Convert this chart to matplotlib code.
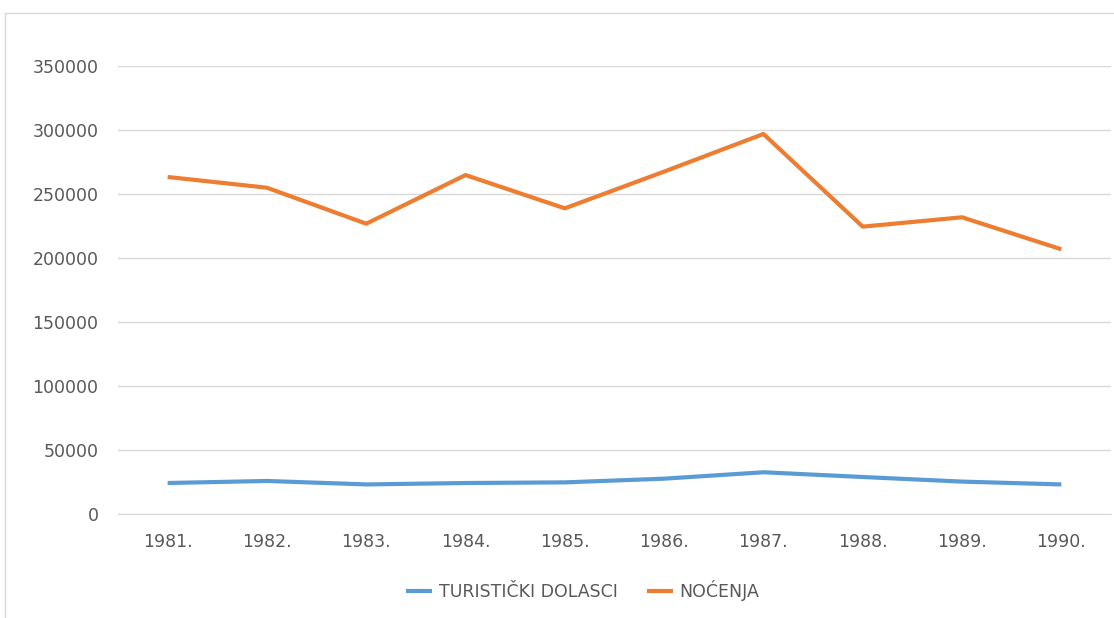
import numpy as np
import matplotlib
matplotlib.use('Agg')
import matplotlib.pyplot as plt
from matplotlib.lines import Line2D

years = ['1981.', '1982.', '1983.', '1984.', '1985.', '1986.', '1987.', '1988.', '1989.', '1990.']
dolasci = [24200, 25800, 23100, 24200, 24700, 27600, 32600, 28900, 25300, 23100]
nocenja = [263300, 254900, 226800, 264800, 238800, 267500, 296900, 224500, 231800, 206800]

grey_txt = '#595959'
grid_col = '#d9d9d9'

plt.rcParams['font.family'] = ['DejaVu Sans']

fig = plt.figure(figsize=(11.14, 6.18), dpi=100)
ax = fig.add_axes([0.1059, 0.1683, 0.8914, 0.7249])

x = np.arange(len(years))
ax.plot(x, dolasci, color='#5B9BD5', lw=3, label='TURISTIČKI DOLASCI', solid_capstyle='butt')
ax.plot(x, nocenja, color='#ED7D31', lw=3, label='NOĆENJA', solid_capstyle='butt')

ax.set_xlim(-0.5, len(years) - 0.5)
ax.set_ylim(0, 350000)
ax.set_yticks(np.arange(0, 350001, 50000))
ax.set_xticks(x)
ax.set_xticklabels(years)
ax.yaxis.grid(True, color=grid_col, lw=1)
ax.set_axisbelow(True)
for s in ['top', 'right', 'left']:
    ax.spines[s].set_visible(False)
ax.spines['bottom'].set_color(grid_col)
ax.tick_params(axis='both', length=0, labelsize=12.5, colors=grey_txt)
ax.tick_params(axis='y', pad=14)
ax.tick_params(axis='x', pad=14)

# outer chart frame: only top and left edges are visible
x0 = 4.5 / 1114
y0 = 1 - 12.5 / 618
fig.lines.append(Line2D([x0, 1.0], [y0, y0], transform=fig.transFigure, color=grid_col, lw=1))
fig.lines.append(Line2D([x0, x0], [0.0, y0], transform=fig.transFigure, color=grid_col, lw=1))

leg = fig.legend(loc='center', bbox_to_anchor=(0.523, 0.045), ncol=2, frameon=False,
                 fontsize=12.5, handlelength=1.5, handletextpad=0.4, columnspacing=1.67)
for t in leg.get_texts():
    t.set_color(grey_txt)

fig.savefig('out.png', dpi=100, facecolor='white')
